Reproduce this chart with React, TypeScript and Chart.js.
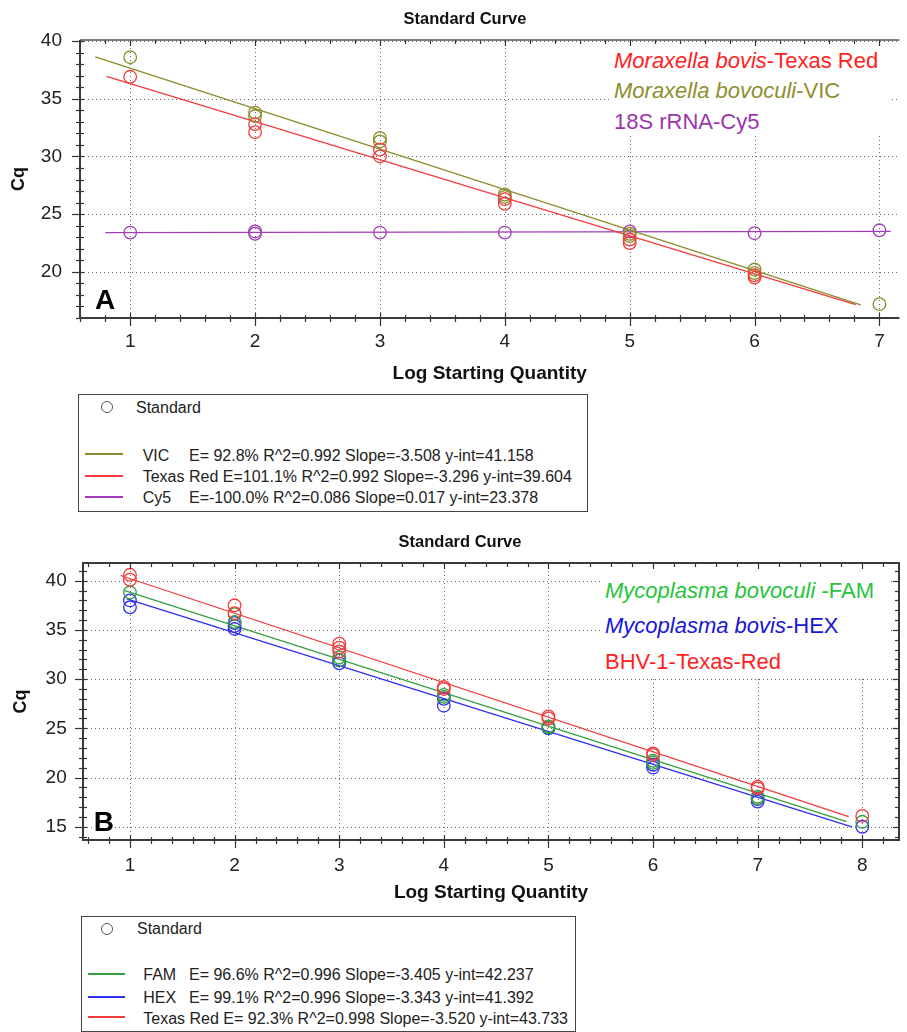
import React, { useEffect, useRef } from "react";
import { Chart, registerables } from "chart.js";

Chart.register(...registerables);

const FONT = "'Liberation Sans', Arial, Helvetica, sans-serif";
const W = 907;

// ================= Panel A data =================
const xTicksA = [1, 2, 3, 4, 5, 6, 7];
const yTicksA = [20, 25, 30, 35, 40];

const vicLogQty = [1, 2, 2, 3, 3, 4, 4, 5, 5, 6, 6, 7];
const vicCq = [38.6, 33.8, 33.5, 31.6, 31.3, 26.7, 26.5, 23.3, 23.1, 20.2, 19.9, 17.2];

const texasRedALogQty = [1, 2, 2, 3, 3, 4, 4, 5, 5, 6, 6];
const texasRedACq = [36.9, 32.8, 32.1, 30.6, 30.0, 26.3, 25.9, 22.8, 22.5, 19.7, 19.5];

const cy5LogQty = [1, 2, 2, 3, 4, 5, 6, 7];
const cy5Cq = [23.4, 23.5, 23.3, 23.4, 23.4, 23.5, 23.35, 23.6];

const fitNamesA = ["VIC", "Texas Red", "Cy5"];
const fitEffA = [" 92.8", "101.1", "-100.0"];
const fitR2A = ["0.992", "0.992", "0.086"];
const fitSlopeA = [-3.508, -3.296, 0.017];
const fitIntA = [41.158, 39.604, 23.378];
const fitFromA = [0.72, 0.81, 0.8];
const fitToA = [6.85, 6.81, 7.09];

const annItalicA = ["Moraxella bovis", "Moraxella bovoculi", ""];
const annPlainA = ["-Texas Red", "-VIC", "18S rRNA-Cy5"];

// ================= Panel B data =================
const xTicksB = [1, 2, 3, 4, 5, 6, 7, 8];
const yTicksB = [15, 20, 25, 30, 35, 40];

const famLogQty = [1, 2, 2, 3, 3, 4, 4, 5, 5, 6, 6, 7, 7, 8];
const famCq = [38.8, 36.6, 35.8, 32.2, 31.9, 28.4, 28.2, 25.2, 25.1, 21.7, 21.5, 18.05, 17.9, 15.5];

const hexLogQty = [1, 1, 2, 2, 2, 3, 3, 4, 4, 5, 6, 6, 7, 7, 8];
const hexCq = [38.0, 37.3, 35.7, 35.4, 35.1, 31.9, 31.6, 28.0, 27.3, 25.0, 21.3, 21.0, 17.8, 17.55, 15.0];

const texasRedBLogQty = [1, 1, 2, 2, 3, 3, 3, 4, 4, 5, 5, 6, 6, 7, 7, 8];
const texasRedBCq = [40.6, 40.1, 37.5, 36.7, 33.6, 33.2, 32.8, 29.2, 29.0, 26.2, 26.0, 22.45, 22.3, 19.06, 18.9, 16.1];

const fitNamesB = ["FAM", "HEX", "Texas Red"];
const fitEffB = [" 96.6", " 99.1", " 92.3"];
const fitR2B = ["0.996", "0.996", "0.998"];
const fitSlopeB = [-3.405, -3.343, -3.52];
const fitIntB = [42.237, 41.392, 43.733];
const fitFromB = [0.95, 0.97, 0.91];
const fitToB = [7.85, 7.9, 7.87];

const annItalicB = ["Mycoplasma bovoculi", "Mycoplasma bovis", ""];
const annPlainB = [" -FAM", "-HEX", "BHV-1-Texas-Red"];

// ================= colours =================
const OLIVE = "#8c8c2c";
const RED = "#f23c3c";
const PURPLE = "#a03cb4";
const GREEN = "#35a03e";
const BLUE = "#2f2ff0";

const lineColorsA = [OLIVE, RED, PURPLE];
const annColorsA = ["#ff1f1f", "#8f8f2f", "#9b35ad"];
const lineColorsB = [GREEN, BLUE, RED];
const annColorsB = ["#27c43c", "#1616d8", "#ff1f1f"];

const statsText = (eff: string, r2: string, slope: number, yint: number) =>
  `E=${eff}% R^2=${r2} Slope=${slope.toFixed(3)} y-int=${yint.toFixed(3)}`;

// ================= plugin: dotted grid, crossing ticks, frame =================
const minorVals = (min: number, max: number, step: number) => {
  const out: number[] = [];
  for (let k = Math.ceil(min / step - 1e-9); k * step <= max + 1e-9; k++) out.push(+(k * step).toFixed(6));
  return out;
};

const gridFramePlugin = {
  id: "gridFrame",
  beforeDatasetsDraw(chart: any) {
    const { ctx, chartArea: a, scales } = chart;
    const xs = scales.x;
    const ys = scales.y;
    ctx.save();
    ctx.strokeStyle = "#6a6a6a";
    ctx.lineWidth = 1;
    ctx.setLineDash([1, 3]);
    for (const t of xs.ticks) {
      const px = Math.round(xs.getPixelForValue(t.value)) + 0.5;
      ctx.beginPath();
      ctx.moveTo(px, a.top);
      ctx.lineTo(px, a.bottom);
      ctx.stroke();
    }
    for (const t of ys.ticks) {
      const py = Math.round(ys.getPixelForValue(t.value)) + 0.5;
      ctx.beginPath();
      ctx.moveTo(a.left, py);
      ctx.lineTo(a.right, py);
      ctx.stroke();
    }
    ctx.restore();
  },
  afterDatasetsDraw(chart: any, _a: any, o: any) {
    const { ctx, chartArea: a, scales } = chart;
    const xs = scales.x;
    const ys = scales.y;
    const isMajor = (sc: any, v: number) => sc.ticks.some((t: any) => Math.abs(t.value - v) < 1e-6);
    const seg = (x1: number, y1: number, x2: number, y2: number) => {
      ctx.beginPath();
      ctx.moveTo(x1, y1);
      ctx.lineTo(x2, y2);
      ctx.stroke();
    };
    ctx.save();
    ctx.strokeStyle = "#333";
    ctx.lineWidth = 1.2;
    for (const v of minorVals(xs.min, xs.max, o.xStep)) {
      const px = Math.round(xs.getPixelForValue(v)) + 0.5;
      const mj = isMajor(xs, v);
      seg(px, a.bottom - (mj ? 5 : 3), px, a.bottom + (mj ? 8 : 4));
      seg(px, a.top, px, a.top + (mj ? 6 : 4));
    }
    for (const v of minorVals(ys.min, ys.max, o.yStep)) {
      const py = Math.round(ys.getPixelForValue(v)) + 0.5;
      const mj = isMajor(ys, v);
      seg(a.left - (mj ? 8 : 4), py, a.left + 4, py);
      if (o.rightAxis) seg(a.right - (mj ? 6 : 4), py, a.right, py);
    }
    ctx.lineWidth = 2;
    ctx.strokeStyle = "#3a3a3a";
    if (o.rightAxis) {
      ctx.strokeRect(a.left, a.top, a.right - a.left, a.bottom - a.top);
    } else {
      seg(a.left, a.top, a.left, a.bottom);
      seg(a.left - 1, a.bottom, a.right, a.bottom);
      ctx.lineWidth = 1.6;
      ctx.strokeStyle = "#555";
      seg(a.left, a.top, a.right, a.top);
    }
    ctx.restore();
  },
};

type Spec = {
  height: number;
  padTop: number;
  padRight: number;
  yWidth: number;
  xMin: number;
  xMax: number;
  yMin: number;
  yMax: number;
  xTicks: number[];
  yTicks: number[];
  xTickPad: number;
  yTickPad: number;
  xTitlePad: number;
  yTitlePad: number;
  rightAxis: boolean;
  series: { qty: number[]; cq: number[]; color: string }[];
  fitSlope: number[];
  fitInt: number[];
  fitFrom: number[];
  fitTo: number[];
  fitColors: string[];
};

function buildConfig(s: Spec): any {
  const datasets: any[] = [];
  s.series.forEach((se) => {
    datasets.push({
      data: se.qty.map((x, i) => ({ x, y: se.cq[i] })),
      showLine: false,
      pointStyle: "circle",
      pointRadius: 6.3,
      pointBorderWidth: 1.3,
      pointBorderColor: se.color,
      pointBackgroundColor: "rgba(0,0,0,0)",
      borderColor: se.color,
    });
  });
  s.fitSlope.forEach((m, i) => {
    datasets.push({
      data: [s.fitFrom[i], s.fitTo[i]].map((x) => ({ x, y: m * x + s.fitInt[i] })),
      showLine: true,
      borderColor: s.fitColors[i],
      borderWidth: 1.3,
      pointRadius: 0,
      fill: false,
    });
  });
  return {
    type: "scatter",
    data: { datasets },
    plugins: [gridFramePlugin],
    options: {
      animation: false,
      responsive: false,
      maintainAspectRatio: false,
      events: [],
      layout: { padding: { top: s.padTop, right: s.padRight, bottom: 0, left: 0 } },
      plugins: {
        legend: { display: false },
        tooltip: { enabled: false },
        title: { display: false },
        gridFrame: { xStep: 0.2, yStep: 1, rightAxis: s.rightAxis },
      },
      scales: {
        x: {
          type: "linear",
          min: s.xMin,
          max: s.xMax,
          afterBuildTicks: (sc: any) => {
            sc.ticks = s.xTicks.map((v) => ({ value: v }));
          },
          afterFit: (sc: any) => {
            sc.height = 70;
          },
          grid: { display: false, drawTicks: false },
          border: { display: false },
          ticks: {
            autoSkip: false,
            maxRotation: 0,
            padding: s.xTickPad,
            color: "#222",
            font: { family: FONT, size: 19 },
            callback: (v: any) => String(v),
          },
          title: {
            display: true,
            text: "Log Starting Quantity",
            color: "#111",
            font: { family: FONT, size: 19, weight: "bold" },
            padding: { top: 0, bottom: s.xTitlePad },
          },
        },
        y: {
          type: "linear",
          min: s.yMin,
          max: s.yMax,
          afterBuildTicks: (sc: any) => {
            sc.ticks = s.yTicks.map((v) => ({ value: v }));
          },
          afterFit: (sc: any) => {
            sc.width = s.yWidth;
          },
          grid: { display: false, drawTicks: false },
          border: { display: false },
          ticks: {
            autoSkip: false,
            padding: s.yTickPad,
            color: "#222",
            font: { family: FONT, size: 19 },
            callback: (v: any) => String(v),
          },
          title: {
            display: true,
            text: "Cq",
            color: "#111",
            font: { family: FONT, size: 18, weight: "bold" },
            padding: { top: s.yTitlePad, bottom: 0 },
          },
        },
      },
    },
  };
}

function ChartCanvas({ spec, top }: { spec: Spec; top: number }) {
  const ref = useRef<HTMLCanvasElement | null>(null);
  useEffect(() => {
    if (!ref.current) return;
    const chart = new Chart(ref.current, buildConfig(spec));
    return () => chart.destroy();
  }, []);
  return (
    <canvas
      ref={ref}
      width={W}
      height={spec.height}
      style={{ position: "absolute", left: 0, top, width: W, height: spec.height, display: "block" }}
    />
  );
}

function T(props: {
  x: number;
  base: number;
  size?: number;
  bold?: boolean;
  color?: string;
  children: any;
  bg?: string;
}) {
  const size = props.size ?? 16;
  return (
    <div
      style={{
        position: "absolute",
        left: props.x,
        top: props.base - 0.8465 * size,
        fontSize: size,
        lineHeight: `${size}px`,
        fontFamily: FONT,
        fontWeight: props.bold ? 700 : 400,
        color: props.color ?? "#222",
        whiteSpace: "pre",
        background: props.bg,
      }}
    >
      {props.children}
    </div>
  );
}

function CenterTitle({ cx, base, text }: { cx: number; base: number; text: string }) {
  const size = 16.5;
  return (
    <div
      style={{
        position: "absolute",
        left: cx - 150,
        width: 300,
        textAlign: "center",
        top: base - 0.8465 * size,
        fontSize: size,
        lineHeight: `${size}px`,
        fontFamily: FONT,
        fontWeight: 700,
        color: "#111",
        whiteSpace: "pre",
      }}
    >
      {text}
    </div>
  );
}

const abs = (l: number, t: number, w: number, h: number, extra: any = {}) => ({
  position: "absolute" as const,
  left: l,
  top: t,
  width: w,
  height: h,
  boxSizing: "border-box" as const,
  ...extra,
});

const specA: Spec = {
  height: 388,
  padTop: 40,
  padRight: 0,
  yWidth: 80,
  xMin: 0.598,
  xMax: 7.16,
  yMin: 16,
  yMax: 40.09,
  xTicks: xTicksA,
  yTicks: yTicksA,
  xTickPad: 12.3,
  yTickPad: 18,
  xTitlePad: 3,
  yTitlePad: 8.5,
  rightAxis: false,
  series: [
    { qty: texasRedALogQty, cq: texasRedACq, color: RED },
    { qty: vicLogQty, cq: vicCq, color: OLIVE },
    { qty: cy5LogQty, cq: cy5Cq, color: PURPLE },
  ],
  fitSlope: fitSlopeA,
  fitInt: fitIntA,
  fitFrom: fitFromA,
  fitTo: fitToA,
  fitColors: lineColorsA,
};

const specB: Spec = {
  height: 390,
  padTop: 43,
  padRight: 8,
  yWidth: 83,
  xMin: 0.551,
  xMax: 8.351,
  yMin: 13.65,
  yMax: 41.8,
  xTicks: xTicksB,
  yTicks: yTicksB,
  xTickPad: 14,
  yTickPad: 16.3,
  xTitlePad: 6,
  yTitlePad: 10.2,
  rightAxis: true,
  series: [
    { qty: texasRedBLogQty, cq: texasRedBCq, color: RED },
    { qty: famLogQty, cq: famCq, color: GREEN },
    { qty: hexLogQty, cq: hexCq, color: BLUE },
  ],
  fitSlope: fitSlopeB,
  fitInt: fitIntB,
  fitFrom: fitFromB,
  fitTo: fitToB,
  fitColors: lineColorsB,
};

// legend layout (positions only)
const legRowBaseA = [461.5, 482.7, 503.3];
const legLineYA = [454, 476, 497];
const legStatsXA = [189, 0, 189];
const legRowBaseB = [981, 1003.3, 1024.3];
const legLineYB = [974, 997, 1017];
const legStatsXB = [189, 189, 0];

function Legend(props: {
  box: [number, number, number, number];
  circle: [number, number];
  stdX: number;
  stdBase: number;
  lineX: [number, number];
  nameX: number;
  names: string[];
  eff: string[];
  r2: string[];
  slope: number[];
  yint: number[];
  colors: string[];
  rowBase: number[];
  lineY: number[];
  statsX: number[];
}) {
  const [bl, bt, bw, bh] = props.box;
  return (
    <>
      <div style={abs(bl, bt, bw, bh, { border: "1.5px solid #444", background: "#fff" })} />
      <div
        style={abs(props.circle[0] - 6, props.circle[1] - 6, 12, 12, {
          border: "1.3px solid #555",
          borderRadius: "50%",
        })}
      />
      <T x={props.stdX} base={props.stdBase}>
        Standard
      </T>
      {props.names.map((n, i) => {
        const st = statsText(props.eff[i], props.r2[i], props.slope[i], props.yint[i]);
        return (
          <React.Fragment key={n}>
            <div
              style={abs(props.lineX[0], props.lineY[i] - 1, props.lineX[1] - props.lineX[0], 1.5, {
                background: props.colors[i],
              })}
            />
            {props.statsX[i] > 0 ? (
              <>
                <T x={props.nameX} base={props.rowBase[i]}>
                  {n}
                </T>
                <T x={props.statsX[i]} base={props.rowBase[i]}>
                  {st}
                </T>
              </>
            ) : (
              <T x={props.nameX} base={props.rowBase[i]}>
                {n + " " + st}
              </T>
            )}
          </React.Fragment>
        );
      })}
    </>
  );
}

function Annotation(props: {
  box: [number, number, number, number];
  x: number;
  bases: number[];
  italic: string[];
  plain: string[];
  colors: string[];
}) {
  const [l, t, w, h] = props.box;
  return (
    <>
      <div style={abs(l, t, w, h, { background: "#fff" })} />
      {props.plain.map((p, i) => (
        <T key={i} x={props.x} base={props.bases[i]} size={22} color={props.colors[i]}>
          {props.italic[i] ? <i>{props.italic[i]}</i> : null}
          {p}
        </T>
      ))}
    </>
  );
}

export default function App() {
  return (
    <div style={{ position: "absolute", left: 0, top: 0, width: W, height: 1032, background: "#fff", overflow: "hidden" }}>
      {/* Panel A */}
      <ChartCanvas spec={specA} top={0} />
      <CenterTitle cx={465} base={24} text="Standard Curve" />
      <Annotation
        box={[612, 47, 278, 87]}
        x={614}
        bases={[68.3, 99, 130]}
        italic={annItalicA}
        plain={annPlainA}
        colors={annColorsA}
      />
      <T x={95} base={310} size={28} bold color="#000">
        A
      </T>
      <Legend
        box={[78, 394, 510, 118]}
        circle={[106.7, 407]}
        stdX={136}
        stdBase={413.3}
        lineX={[85, 123]}
        nameX={142.7}
        names={fitNamesA}
        eff={fitEffA}
        r2={fitR2A}
        slope={fitSlopeA}
        yint={fitIntA}
        colors={lineColorsA}
        rowBase={legRowBaseA}
        lineY={legLineYA}
        statsX={legStatsXA}
      />

      {/* Panel B */}
      <ChartCanvas spec={specB} top={520} />
      <CenterTitle cx={460} base={546.7} text="Standard Curve" />
      <Annotation
        box={[602, 571, 286, 105]}
        x={605}
        bases={[599, 633.3, 670]}
        italic={annItalicB}
        plain={annPlainB}
        colors={annColorsB}
      />
      <T x={93.7} base={831.7} size={28} bold color="#000" bg="#fff">
        B
      </T>
      <Legend
        box={[81, 916, 495, 116]}
        circle={[106.7, 929]}
        stdX={137}
        stdBase={934.3}
        lineX={[88, 125]}
        nameX={143.3}
        names={fitNamesB}
        eff={fitEffB}
        r2={fitR2B}
        slope={fitSlopeB}
        yint={fitIntB}
        colors={lineColorsB}
        rowBase={legRowBaseB}
        lineY={legLineYB}
        statsX={legStatsXB}
      />
    </div>
  );
}
